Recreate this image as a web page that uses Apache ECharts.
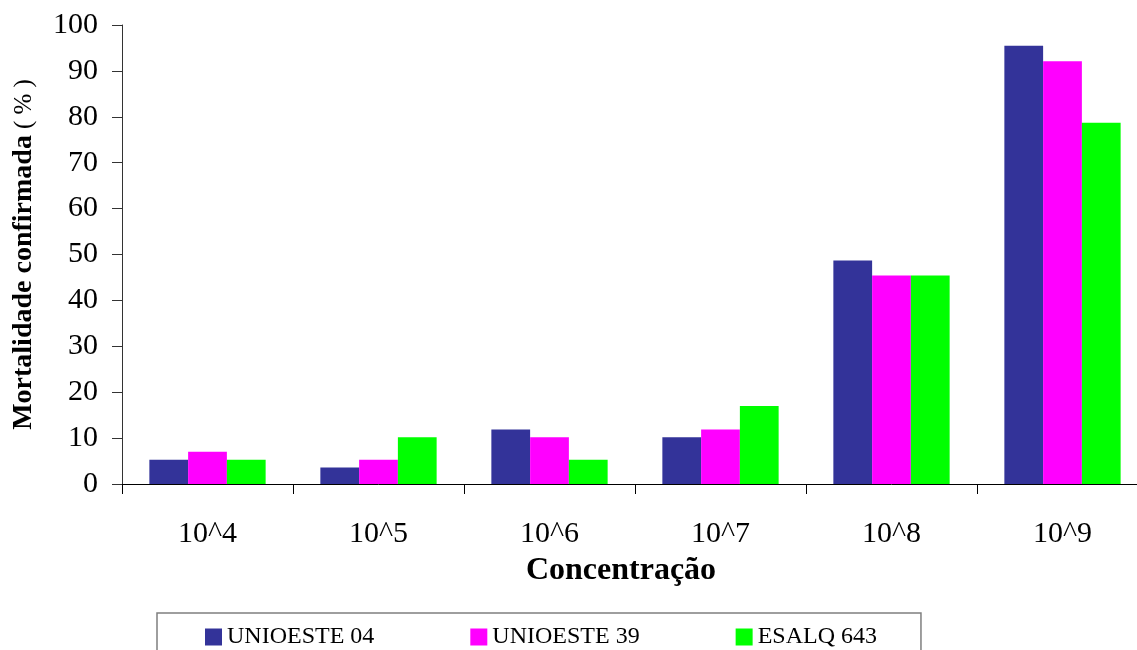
<!DOCTYPE html>
<html>
<head>
<meta charset="utf-8">
<script src="https://cdn.jsdelivr.net/npm/echarts@6/dist/echarts.min.js"></script>
<style>
  html, body { margin: 0; padding: 0; background: #fff; overflow: hidden; }
  #chart { width: 1150px; height: 650px; }
</style>
</head>
<body>
<div id="chart"></div>
<script>
const categories = ['10^4', '10^5', '10^6', '10^7', '10^8', '10^9'];
const seriesNames = ['UNIOESTE 04', 'UNIOESTE 39', 'ESALQ 643'];
const unioeste04 = [5.3, 3.6, 11.9, 10.2, 48.7, 95.5];
const unioeste39 = [7.0, 5.3, 10.2, 11.9, 45.4, 92.1];
const esalq643 = [5.3, 10.2, 5.3, 17.0, 45.4, 78.7];
const colors = ['#333399', '#FF00FF', '#00FF00'];

const FONT = 'Liberation Serif';
const chart = echarts.init(document.getElementById('chart'));
const dataSets = [unioeste04, unioeste39, esalq643];

chart.setOption({
  animation: false,
  backgroundColor: '#ffffff',
  textStyle: { fontFamily: FONT, color: '#000' },
  grid: { left: 122, top: 25, width: 1026, height: 459, containLabel: false },
  legend: {
    data: seriesNames,
    left: 157,
    top: 613,
    orient: 'horizontal',
    icon: 'rect',
    itemWidth: 17,
    itemHeight: 17,
    itemGap: 96,
    padding: [12, 44, 25, 48],
    borderColor: '#7f7f7f',
    borderWidth: 1.5,
    textStyle: { fontFamily: FONT, fontSize: 24, color: '#000', width: 150 }
  },
  xAxis: {
    type: 'category',
    data: categories,
    name: 'Concentração',
    nameLocation: 'middle',
    nameGap: 71,
    nameTextStyle: { fontFamily: FONT, fontSize: 32, fontWeight: 'bold', color: '#000', padding: [0, 28, 0, 0] },
    axisLine: { lineStyle: { color: '#000', width: 1 } },
    axisTick: { show: true, length: 10, alignWithLabel: false, lineStyle: { color: '#000' } },
    axisLabel: { fontFamily: FONT, fontSize: 30, color: '#000', margin: 35 },
    splitLine: { show: false }
  },
  yAxis: {
    type: 'value',
    min: 0,
    max: 100,
    interval: 10,
    name: '{b|Mortalidade confirmada}  {n|( % )}',
    nameLocation: 'middle',
    nameGap: 84,
    nameRotate: 90,
    nameTextStyle: {
      rich: {
        b: { fontFamily: FONT, fontSize: 28, fontWeight: 'bold', color: '#000' },
        n: { fontFamily: FONT, fontSize: 25, fontWeight: 'normal', color: '#000' }
      }
    },
    axisLine: { show: true, lineStyle: { color: '#333', width: 1 } },
    axisTick: { show: true, length: 10, lineStyle: { color: '#333' } },
    axisLabel: { fontFamily: FONT, fontSize: 30, color: '#000', margin: 24 },
    splitLine: { show: false }
  },
  series: seriesNames.map((name, i) => ({
    name: name,
    type: 'bar',
    data: dataSets[i],
    barGap: '0%',
    barCategoryGap: '32%',
    itemStyle: { color: colors[i] }
  }))
});
</script>
</body>
</html>
